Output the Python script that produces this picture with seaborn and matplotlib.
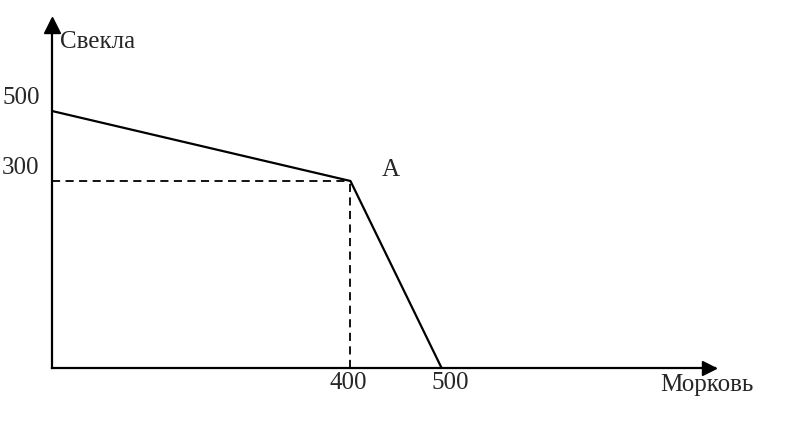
import numpy as np
import pandas as pd
import matplotlib
matplotlib.use("Agg")
import matplotlib.pyplot as plt
import seaborn as sns

# ==============================
# Data
# ==============================
carrots = [0, 400, 500]      # Морковь
beets = [500, 300, 0]        # Свекла
point_a = (400, 300)
x_ticks = [400, 500]
y_ticks = [500, 300]

frontier = pd.DataFrame({"Морковь": carrots, "Свекла": beets})

# ==============================
# Style
# ==============================
sns.set_theme(style="white")
plt.rcParams["font.family"] = ["Liberation Serif", "DejaVu Serif"]

fig = plt.figure(figsize=(8, 4.32), dpi=100)
ax = fig.add_axes([52 / 800, 1 - 368 / 432, 663 / 800, 348 / 432])

# hand-drawn picture is not to scale: piecewise linear axes
xs_data = [0, 400, 500, 800]
xs_pix = [0, 298, 389, 662]
ys_data = [0, 300, 500, 760]
ys_pix = [0, 187, 257, 348]

ax.set_xscale("function", functions=(lambda v: np.interp(v, xs_data, xs_pix),
                                     lambda v: np.interp(v, xs_pix, xs_data)))
ax.set_yscale("function", functions=(lambda v: np.interp(v, ys_data, ys_pix),
                                     lambda v: np.interp(v, ys_pix, ys_data)))

# ==============================
# Frontier
# ==============================
sns.lineplot(data=frontier, x="Морковь", y="Свекла", sort=False,
             color="black", linewidth=1.6, ax=ax)

dash = (0, (4.5, 3))
ax.plot([0, point_a[0]], [point_a[1], point_a[1]], color="black",
        linewidth=1.3, linestyle=dash)
ax.plot([point_a[0], point_a[0]], [0, point_a[1]], color="black",
        linewidth=1.3, linestyle=dash)

ax.set_xlim(0, 800)
ax.set_ylim(0, 760)

# ==============================
# Axes
# ==============================
sns.despine(ax=ax)
for side in ["left", "bottom"]:
    ax.spines[side].set_color("black")
    ax.spines[side].set_linewidth(1.6)

ax.plot(1 - 6 / 663, 0, ">", color="black", markersize=10,
        transform=ax.transAxes, clip_on=False)
ax.plot(0, 1 - 5 / 348, "^", color="black", markersize=11,
        transform=ax.transAxes, clip_on=False)

ax.set_xticks([])
ax.set_yticks([])
ax.set_xlabel("")
ax.set_ylabel("")

fs = 18

for v in y_ticks:
    ax.annotate(str(v), (0, v), xytext=(-9, 9.5), textcoords="offset points",
                ha="right", va="center", fontsize=fs, annotation_clip=False)

ax.annotate(str(x_ticks[0]), (x_ticks[0], 0), xytext=(-1.5, -11),
            textcoords="offset points", ha="center", va="center",
            fontsize=fs, annotation_clip=False)
ax.annotate(str(x_ticks[1]), (x_ticks[1], 0), xytext=(6.5, -11),
            textcoords="offset points", ha="center", va="center",
            fontsize=fs, annotation_clip=False)

ax.annotate("A", point_a, xytext=(29, 8), textcoords="offset points",
            ha="center", va="center", fontsize=fs)

ax.text(0.012, 0.937, "Свекла", transform=ax.transAxes, ha="left",
        va="center", fontsize=fs)
ax.text(0.917, -0.049, "Морковь", transform=ax.transAxes, ha="left",
        va="center", fontsize=fs)

fig.savefig("out.png", dpi=100)
plt.close(fig)
